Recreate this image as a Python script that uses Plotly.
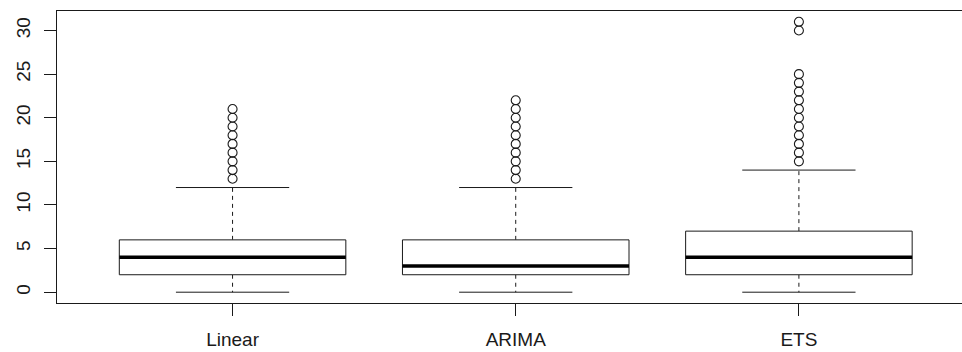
import plotly.graph_objects as go

categories = ["Linear", "ARIMA", "ETS"]
lower_whisker = [0, 0, 0]
q1 = [2, 2, 2]
median = [4, 3, 4]
q3 = [6, 6, 7]
upper_whisker = [12, 12, 14]
outliers = [
    [13, 14, 15, 16, 17, 18, 19, 20, 21],
    [13, 14, 15, 16, 17, 18, 19, 20, 21, 22],
    [15, 16, 17, 18, 19, 20, 21, 22, 23, 24, 25, 30, 31],
]
y_ticks = [0, 5, 10, 15, 20, 25, 30]

BOX_HALF = 0.4
STAPLE_HALF = 0.2
INK = "#1a1a1a"

fig = go.Figure()
for i, name in enumerate(categories):
    c = i + 1
    # dashed whiskers
    fig.add_trace(go.Scatter(x=[c, c, None, c, c],
                             y=[q3[i], upper_whisker[i], None, q1[i], lower_whisker[i]],
                             mode="lines", line=dict(color=INK, width=1, dash="4px,4px"),
                             hoverinfo="skip", showlegend=False))
    # staples
    fig.add_trace(go.Scatter(x=[c - STAPLE_HALF, c + STAPLE_HALF, None, c - STAPLE_HALF, c + STAPLE_HALF],
                             y=[upper_whisker[i], upper_whisker[i], None, lower_whisker[i], lower_whisker[i]],
                             mode="lines", line=dict(color=INK, width=1),
                             hoverinfo="skip", showlegend=False))
    # box
    fig.add_trace(go.Scatter(x=[c - BOX_HALF, c + BOX_HALF, c + BOX_HALF, c - BOX_HALF, c - BOX_HALF],
                             y=[q1[i], q1[i], q3[i], q3[i], q1[i]],
                             mode="lines", fill="toself", fillcolor="white",
                             line=dict(color=INK, width=1),
                             hoverinfo="skip", showlegend=False))
    # median
    fig.add_trace(go.Scatter(x=[c - BOX_HALF, c + BOX_HALF], y=[median[i], median[i]],
                             mode="lines", line=dict(color="black", width=3.5),
                             hoverinfo="skip", showlegend=False))
    # outliers
    fig.add_trace(go.Scatter(x=[c] * len(outliers[i]), y=outliers[i], mode="markers",
                             marker=dict(symbol="circle-open", size=9, color=INK,
                                         line=dict(width=1.1, color=INK)),
                             hoverinfo="skip", showlegend=False))

font = dict(family="Liberation Sans, Arial, sans-serif", size=19, color="#1a1a1a")
fig.update_layout(
    width=962, height=352,
    margin=dict(l=57, r=0, t=11, b=49),
    plot_bgcolor="white", paper_bgcolor="white",
    font=font,
    showlegend=False,
)
fig.update_xaxes(range=[0.38, 3.576], tickvals=[1, 2, 3], ticktext=categories,
                 showgrid=False, zeroline=False, showline=True, mirror=True,
                 linecolor=INK, linewidth=1, ticks="outside", ticklen=12,
                 tickcolor=INK, tickwidth=1, ticklabelstandoff=7)
fig.update_yaxes(range=[-1.24, 32.24], tickvals=y_ticks,
                 showgrid=False, zeroline=False, showline=True, mirror=False,
                 linecolor=INK, linewidth=1, ticks="outside", ticklen=12,
                 tickcolor=INK, tickwidth=1, tickangle=-90, ticklabelstandoff=6)

fig.write_html("out.html")
